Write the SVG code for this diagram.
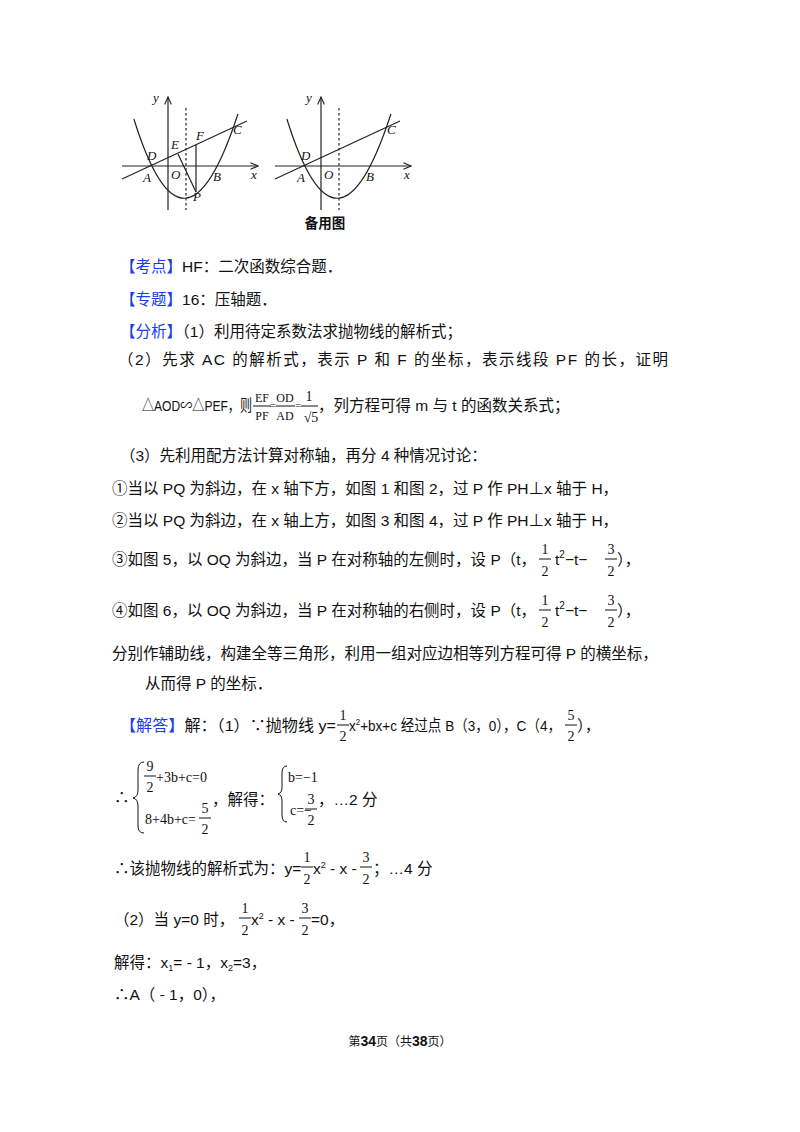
<svg xmlns="http://www.w3.org/2000/svg" width="800" height="1132" viewBox="0 0 800 1132">
<style>
.t{font-family:"Liberation Sans","Noto Sans CJK SC",sans-serif;font-size:15.5px;fill:#111}
.b{fill:#1a3cf0}
.f{font-family:"Liberation Serif","Noto Sans CJK SC",serif;font-size:14px;fill:#111;text-anchor:middle}
.s{text-anchor:start}
.g{font-family:"Liberation Serif",serif;font-style:italic;font-size:13px;fill:#111}
.ln{stroke:#222;stroke-width:1.2;fill:none}
.ds{stroke:#333;stroke-width:1.3;stroke-dasharray:2.5,2.5;fill:none}
.fb{stroke:#111;stroke-width:1}
</style>
<rect width="800" height="1132" fill="#fff"/>
<defs>
<marker id="ar" viewBox="0 0 10 10" refX="9" refY="5" markerWidth="7" markerHeight="7" orient="auto"><path d="M0,1 L9,5 L0,9" fill="none" stroke="#222" stroke-width="1.3"/></marker>
<g id="graph">
<line class="ln" x1="122" y1="166" x2="258" y2="166" marker-end="url(#ar)"/>
<line class="ln" x1="168" y1="210" x2="168" y2="97" marker-end="url(#ar)"/>
<path class="ln" d="M133.9,119 Q184,280 237.9,114"/>
<line class="ln" x1="122" y1="179" x2="247" y2="121"/>
<line class="ds" x1="186" y1="108" x2="186" y2="210"/>
</g>
</defs>
<g id="figure1">
<use href="#graph"/>
<line class="ln" x1="196" y1="145" x2="196" y2="192"/>
<line class="ln" x1="178" y1="154" x2="196" y2="192"/>
<text class="g" x="153" y="102">y</text><text class="g" x="251" y="179">x</text>
<text class="g" x="147" y="160">D</text><text class="g" x="171" y="149">E</text>
<text class="g" x="196" y="140">F</text><text class="g" x="233" y="134">C</text>
<text class="g" x="143" y="182">A</text><text class="g" x="171" y="179">O</text>
<text class="g" x="213" y="181">B</text><text class="g" x="193" y="201">P</text>
</g>
<g id="figure2">
<use href="#graph" x="153"/>
<text class="g" x="306" y="102">y</text><text class="g" x="404" y="179">x</text>
<text class="g" x="301" y="160">D</text><text class="g" x="387" y="134">C</text>
<text class="g" x="297" y="182">A</text><text class="g" x="324" y="179">O</text>
<text class="g" x="366" y="181">B</text>
<text class="t" x="325" y="228" style="text-anchor:middle;font-size:13.5px;font-weight:bold">备用图</text>
</g>
<g id="text">
<text class="t" x="120" y="272"><tspan class="b">【考点】</tspan>HF：二次函数综合题．</text>
<text class="t" x="120" y="305"><tspan class="b">【专题】</tspan>16：压轴题．</text>
<text class="t" x="120" y="337"><tspan class="b">【分析】</tspan>（1）利用待定系数法求抛物线的解析式；</text>
<text class="t" x="118" y="365" textLength="550" lengthAdjust="spacing">（2）先求 AC 的解析式，表示 P 和 F 的坐标，表示线段 PF 的长，证明</text>
<text class="t" x="142" y="411" textLength="110" lengthAdjust="spacingAndGlyphs">△AOD∽△PEF，则</text>
<text class="f" x="262" y="402" style="font-size:12px">EF</text><line class="fb" x1="253" y1="406" x2="271" y2="406"/><text class="f" x="262" y="420" style="font-size:12px">PF</text>
<text class="f" x="273" y="409" style="font-size:11px">=</text>
<text class="f" x="285" y="402" style="font-size:12px">OD</text><line class="fb" x1="276" y1="406" x2="295" y2="406"/><text class="f" x="285" y="420" style="font-size:12px">AD</text>
<text class="f" x="298" y="409" style="font-size:11px">=</text>
<text class="f" x="309" y="401">1</text><line class="fb" x1="301" y1="406" x2="318" y2="406"/><text class="f" x="311" y="422">√5</text>
<text class="t" x="318" y="411">，列方程可得 m 与 t 的函数关系式；</text>
<text class="t" x="120" y="461">（3）先利用配方法计算对称轴，再分 4 种情况讨论：</text>
<text class="t" x="112" y="494">①当以 PQ 为斜边，在 x 轴下方，如图 1 和图 2，过 P 作 PH⊥x 轴于 H，</text>
<text class="t" x="112" y="526">②当以 PQ 为斜边，在 x 轴上方，如图 3 和图 4，过 P 作 PH⊥x 轴于 H，</text>
<text class="t" x="112" y="565" textLength="424" lengthAdjust="spacingAndGlyphs">③如图 5，以 OQ 为斜边，当 P 在对称轴的左侧时，设 P（t，</text>
<text class="f" x="545" y="554">1</text><line class="fb" x1="539" y1="559" x2="551" y2="559"/><text class="f" x="545" y="576">2</text>
<text class="t" x="555" y="565">t<tspan font-size="10" dy="-7">2</tspan><tspan dy="7">−t−</tspan></text>
<text class="f" x="611" y="554">3</text><line class="fb" x1="605" y1="559" x2="617" y2="559"/><text class="f" x="611" y="576">2</text>
<text class="t" x="617" y="565">），</text>
<text class="t" x="112" y="616" textLength="424" lengthAdjust="spacingAndGlyphs">④如图 6，以 OQ 为斜边，当 P 在对称轴的右侧时，设 P（t，</text>
<text class="f" x="545" y="605">1</text><line class="fb" x1="539" y1="610" x2="551" y2="610"/><text class="f" x="545" y="627">2</text>
<text class="t" x="555" y="616">t<tspan font-size="10" dy="-7">2</tspan><tspan dy="7">−t−</tspan></text>
<text class="f" x="611" y="605">3</text><line class="fb" x1="605" y1="610" x2="617" y2="610"/><text class="f" x="611" y="627">2</text>
<text class="t" x="617" y="616">），</text>
<text class="t" x="112" y="659">分别作辅助线，构建全等三角形，利用一组对应边相等列方程可得 P 的横坐标，</text>
<text class="t" x="145" y="689">从而得 P 的坐标．</text>
<text class="t" x="120" y="731" textLength="216" lengthAdjust="spacingAndGlyphs"><tspan class="b">【解答】</tspan>解：（1）∵抛物线 y=</text>
<text class="f" x="343" y="720">1</text><line class="fb" x1="337" y1="725" x2="349" y2="725"/><text class="f" x="343" y="741">2</text>
<text class="t" x="349" y="731" textLength="212" lengthAdjust="spacingAndGlyphs">x<tspan font-size="9" dy="-6">2</tspan><tspan dy="6">+bx+c 经过点 B（3，0），C（4，</tspan></text>
<text class="f" x="571" y="720">5</text><line class="fb" x1="565" y1="725" x2="577" y2="725"/><text class="f" x="571" y="741">2</text>
<text class="t" x="577" y="731">），</text>
<text class="t" x="114" y="803">∴</text>
<path d="M144,762 Q138,762 138,770 L138,790 Q138,797 133,798 Q138,799 138,806 L138,826 Q138,833 144,833" fill="none" stroke="#111" stroke-width="1"/>
<text class="f" x="150" y="771">9</text><line class="fb" x1="144" y1="776" x2="156" y2="776"/><text class="f" x="150" y="792">2</text>
<text class="f s" x="156" y="782">+3b+c=0</text>
<text class="f s" x="145" y="824">8+4b+c=</text>
<text class="f" x="205" y="813">5</text><line class="fb" x1="199" y1="818" x2="211" y2="818"/><text class="f" x="205" y="834">2</text>
<text class="t" x="212" y="805">，解得：</text>
<path d="M287,766 Q282,766 282,773 L282,787 Q282,793 278,794 Q282,795 282,801 L282,815 Q282,822 287,822" fill="none" stroke="#111" stroke-width="1"/>
<text class="f s" x="288" y="782">b=−1</text>
<text class="f s" x="290" y="815">c=−</text>
<text class="f" x="311" y="804">3</text><line class="fb" x1="305" y1="809" x2="317" y2="809"/><text class="f" x="311" y="825">2</text>
<text class="t" x="318" y="805">，…2 分</text>
<text class="t" x="114" y="874">∴该抛物线的解析式为：y=</text>
<text class="f" x="307" y="862">1</text><line class="fb" x1="301" y1="867" x2="313" y2="867"/><text class="f" x="307" y="884">2</text>
<text class="t" x="313" y="874">x<tspan font-size="9" dy="-6">2</tspan><tspan dy="6"> - x - </tspan></text>
<text class="f" x="366" y="862">3</text><line class="fb" x1="360" y1="867" x2="372" y2="867"/><text class="f" x="366" y="884">2</text>
<text class="t" x="373" y="874">；…4 分</text>
<text class="t" x="114" y="925">（2）当 y=0 时，</text>
<text class="f" x="245" y="913">1</text><line class="fb" x1="239" y1="918" x2="251" y2="918"/><text class="f" x="245" y="935">2</text>
<text class="t" x="251" y="925">x<tspan font-size="9" dy="-6">2</tspan><tspan dy="6"> - x - </tspan></text>
<text class="f" x="305" y="913">3</text><line class="fb" x1="299" y1="918" x2="311" y2="918"/><text class="f" x="305" y="935">2</text>
<text class="t" x="311" y="925">=0，</text>
<text class="t" x="114" y="968">解得：x<tspan font-size="9" dy="3">1</tspan><tspan dy="-3">= - 1，x</tspan><tspan font-size="9" dy="3">2</tspan><tspan dy="-3">=3，</tspan></text>
<text class="t" x="114" y="1000">∴A（ - 1，0），</text>
<text class="t" x="400" y="1046" style="text-anchor:middle;font-size:12px">第<tspan font-weight="bold" font-size="14">34</tspan>页（共<tspan font-weight="bold" font-size="14">38</tspan>页）</text>
</g>
</svg>
